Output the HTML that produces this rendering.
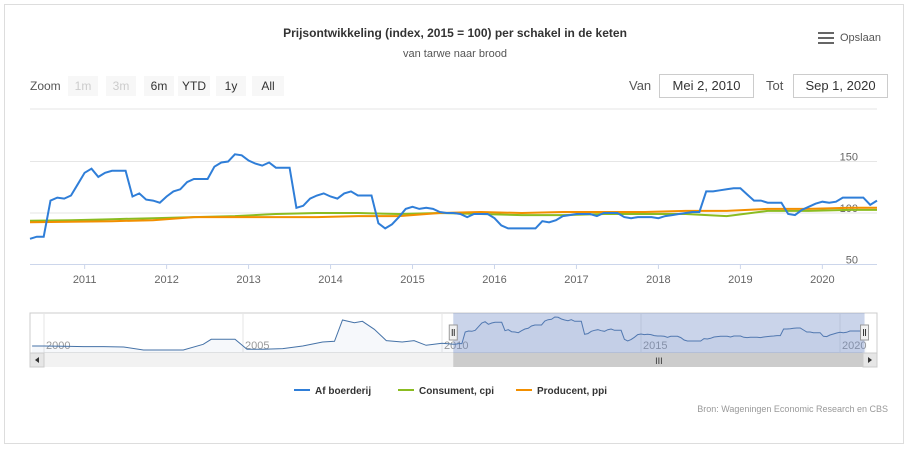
<!DOCTYPE html>
<html><head><meta charset="utf-8">
<style>
body{margin:0;background:#fff;width:910px;height:454px;overflow:hidden;font-family:"Liberation Sans Narrow","Liberation Sans",sans-serif;}
#frame{position:absolute;left:4px;top:4px;width:898px;height:438px;border:1px solid #ddd;}
.t{position:absolute;white-space:nowrap;}
.btn{position:absolute;top:76px;height:20px;line-height:20px;background:#f7f7f7;font-size:12px;text-align:center;color:#333;}
.dis{color:#ccc;}
.inp{position:absolute;top:74px;height:22px;line-height:22px;border:1px solid #ccc;font-size:13px;text-align:center;color:#333;background:#fff;}
</style></head><body>
<div id="frame"></div>
<div class="t" style="left:0;width:910px;text-align:center;top:26px;font-size:12px;font-weight:bold;font-family:'Liberation Sans',sans-serif;color:#333;">Prijsontwikkeling (index, 2015 = 100) per schakel in de keten</div>
<div class="t" style="left:0;width:910px;text-align:center;top:48px;font-size:11px;font-family:'Liberation Sans',sans-serif;color:#555;">van tarwe naar brood</div>
<div class="t" style="left:818px;top:32px;font-size:11px;color:#555;"><span style="display:inline-block;vertical-align:middle;width:16px;height:12px;background:linear-gradient(#666 0 2px,transparent 2px 5px,#666 5px 7px,transparent 7px 10px,#666 10px 12px);margin-right:6px"></span>Opslaan</div>
<div class="t" style="left:30px;top:79px;font-size:12px;color:#555;">Zoom</div>
<div class="btn dis" style="left:68px;width:30px;">1m</div>
<div class="btn dis" style="left:106px;width:30px;">3m</div>
<div class="btn" style="left:144px;width:30px;">6m</div>
<div class="btn" style="left:178px;width:32px;">YTD</div>
<div class="btn" style="left:216px;width:30px;">1y</div>
<div class="btn" style="left:252px;width:32px;">All</div>
<div class="t" style="left:629px;top:78px;font-size:13px;color:#555;">Van</div>
<div class="inp" style="left:659px;width:93px;">Mei 2, 2010</div>
<div class="t" style="left:766px;top:78px;font-size:13px;color:#555;">Tot</div>
<div class="inp" style="left:793px;width:93px;">Sep 1, 2020</div>

<svg id="c" width="910" height="454" style="position:absolute;left:0;top:0" font-family="'Liberation Sans',sans-serif"></svg>

<div class="t" style="right:22px;top:404px;font-size:9px;color:#999;">Bron: Wageningen Economic Research en CBS</div>

<script>
// monthly from May 2010
const blueStart = 2010 + 4/12;
const blue = [75,77,77,112,115,114,117,128,139,143,135,139,141,141,141,116,119,113,112,110,116,121,123,130,133,133,133,145,149,150,157,156,151,148,146,149,144,144,144,105,107,114,117,119,116,114,119,121,117,117,117,90,85,89,96,104,106,104,105,104,101,100,100,99,96,99,99,99,95,88,85,85,85,85,85,92,91,93,97,98,99,99,99,97,100,100,100,96,95,96,96,96,95,97,98,99,100,101,101,121,121,122,123,124,124,118,112,112,110,110,110,99,98,103,106,109,111,110,111,115,115,115,115,108,112];
const cpiMonths = [0,6,12,18,24,30,36,42,48,54,60,66,72,78,84,90,96,102,108,114,120,124];
const cpi = [92.5,93,94,95,96,97,99,100,100,99,100,99,98,98,99,99,99,97,102,102,103,103];
const ppiMonths = [0,6,12,18,24,30,36,42,48,54,60,66,72,78,84,90,96,102,108,114,120,124];
const ppi = [91,91.5,92,93,96,96,96,96,97,97,100,101,100,101,101,101,102,102,104,104,105,105];
const navYears = [1999.7,2000,2000.5,2001,2001.5,2002,2002.5,2003,2003.5,2004,2004.2,2004.8,2005.1,2005.5,2006,2006.5,2007,2007.3,2007.5,2007.8,2008,2008.3,2008.6,2009,2009.3,2009.6,2010,2010.3];
const navVals = [70,70,69,68,68,67,58,58,58,75,90,90,60,60,62,70,82,84,148,140,144,120,86,82,86,72,78,75];
const yTicks = [50,100,150];
const xTicks = [2011,2012,2013,2014,2015,2016,2017,2018,2019,2020];
const navTicks = [2000,2005,2010,2015,2020];

const svg = document.getElementById('c');
const NS = 'http://www.w3.org/2000/svg';
function mk(tag, attrs, parent){const e=document.createElementNS(NS,tag);for(const k in attrs)e.setAttribute(k,attrs[k]);(parent||svg).appendChild(e);return e;}
const X0=30,X1=877, T0=blueStart, T1=2020+8/12;
const x = t => X0 + (t-T0)/(T1-T0)*(X1-X0);
const y = v => 213 - (v-100)*1.03;
const NX0=30,NX1=877;
const nx = t => 44 + (t-2000)*39.8;
const ny = v => 317 + (157-v)*0.333;

let e;
e=mk('line',{x1:X0,x2:X1,y1:109,y2:109,stroke:'#e6e6e6'});


yTicks.forEach(v=>{
  e=mk('line',{x1:X0,x2:X1,y1:y(v),y2:y(v),stroke:v===50?'#ccd6eb':'#e6e6e6'});
  
  
  e=mk('text',{x:858,y:y(v)-1,'text-anchor':'end','font-size':11,fill:'#666'});e.textContent=v;
  
  
});
xTicks.forEach(t=>{
  e=mk('line',{x1:x(t),x2:x(t),y1:264,y2:269,stroke:'#ccd6eb'});
  
  
  e=mk('text',{x:x(t),y:283,'text-anchor':'middle','font-size':11,fill:'#666'});e.textContent=t;
  
  
});
function path(pts){return pts.map((p,i)=>(i?'L':'M')+p[0].toFixed(1)+','+p[1].toFixed(1)).join('');}
e=mk('path',{d:path(cpiMonths.map((m,i)=>[x(T0+m/12),y(cpi[i])])),fill:'none',stroke:'#8bbc21','stroke-width':2});


e=mk('path',{d:path(ppiMonths.map((m,i)=>[x(T0+m/12),y(ppi[i])])),fill:'none',stroke:'#f28f00','stroke-width':2});


e=mk('path',{d:path(blue.map((v,i)=>[x(T0+i/12),y(v)])),fill:'none',stroke:'#2f7ed8','stroke-width':2});



// navigator
e=mk('rect',{x:NX0,y:313,width:NX1-NX0,height:40,fill:'#fff',stroke:'#ccc'});


navTicks.forEach(t=>{
  e=mk('line',{x1:nx(t),x2:nx(t),y1:313,y2:353,stroke:'#e6e6e6'});
  
  
  e=mk('text',{x:nx(t)+2,y:349,'font-size':11,fill:'#999'});e.textContent=t;
  
  
});
const navPts = navYears.map((t,i)=>[nx(t),ny(navVals[i])]).concat(blue.map((v,i)=>[nx(T0+i/12),ny(v)]));
e=mk('path',{d:path(navPts)+'L'+nx(T1)+',353L'+nx(navYears[0])+',353Z',fill:'rgba(69,114,167,0.05)',stroke:'none'});


e=mk('path',{d:path(navPts),fill:'none',stroke:'#4572a7','stroke-width':1});


const sx0=nx(T0)-2, sx1=nx(T1)-2;
e=mk('rect',{x:sx0,y:313,width:sx1-sx0,height:40,fill:'rgba(102,133,194,0.35)'});


[sx0,sx1].forEach((hx,i)=>{
  e=mk('rect',{x:hx-4,y:325,width:8,height:15,fill:'#f2f2f2',stroke:'#999'});
  
  
  mk('line',{x1:hx-1,x2:hx-1,y1:329,y2:336,stroke:'#333'});mk('line',{x1:hx+1,x2:hx+1,y1:329,y2:336,stroke:'#333'});
});
// scrollbar
e=mk('rect',{x:30,y:353,width:847,height:14,fill:'#f2f2f2'});


e=mk('rect',{x:sx0,y:353,width:sx1-sx0,height:14,fill:'#ccc'});


e=mk('text',{x:(sx0+sx1)/2,y:364,'text-anchor':'middle','font-size':9,fill:'#333'});e.textContent='III';
e=mk('rect',{x:30,y:353,width:14,height:14,fill:'#e6e6e6',stroke:'#ccc'});


mk('path',{d:'M39,357L35,360L39,363Z',fill:'#333'});
e=mk('rect',{x:863,y:353,width:14,height:14,fill:'#e6e6e6',stroke:'#ccc'});


mk('path',{d:'M868,357L872,360L868,363Z',fill:'#333'});

// legend
const leg=[['Af boerderij','#2f7ed8',294],['Consument, cpi','#8bbc21',398],['Producent, ppi','#f28f00',516]];
leg.forEach(l=>{
  const g=mk('g',{});
  
  
  mk('line',{x1:l[2],x2:l[2]+16,y1:390,y2:390,stroke:l[1],'stroke-width':2},g);
  const t=mk('text',{x:l[2]+21,y:394,'font-size':10,'font-weight':'bold',fill:'#333'},g);t.textContent=l[0];
});
</script>
</body></html>
